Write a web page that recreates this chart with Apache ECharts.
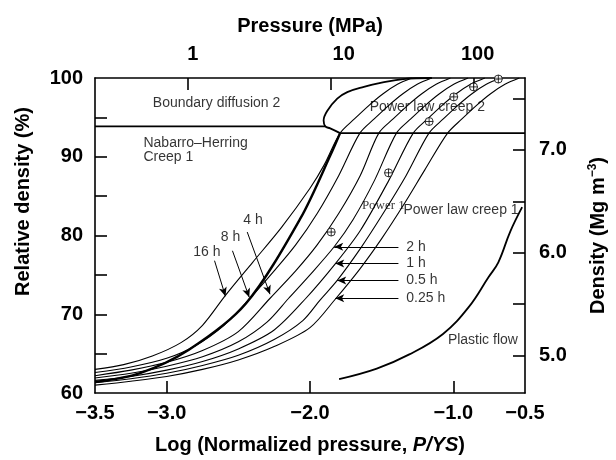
<!DOCTYPE html>
<html>
<head>
<meta charset="utf-8">
<script src="https://cdn.jsdelivr.net/npm/echarts@6/dist/echarts.min.js"></script>
<style>
  html, body { margin: 0; padding: 0; background: #fff; }
  #chart { width: 616px; height: 460px; }
</style>
</head>
<body>
<div id="chart"></div>
<script>
// x = log(P/YS), y = relative density (%)
const h16 = [[-3.5,63.0],[-3.3,63.6],[-3.1,64.7],[-2.9,66.4],[-2.75,68.6],[-2.59,72.4],[-2.4,76.6],[-2.2,81.0],[-2.0,86.0],[-1.9,89.0],[-1.79,93.0],[-1.69,94.8],[-1.59,96.5],[-1.49,98.0],[-1.39,99.2],[-1.29,100]];
const h8 = [[-3.5,62.6],[-3.25,63.3],[-3.0,64.4],[-2.8,66.0],[-2.6,68.6],[-2.42,72.0],[-2.25,75.5],[-2.1,78.8],[-1.95,82.8],[-1.8,87.6],[-1.652,93.0],[-1.552,94.8],[-1.452,96.5],[-1.352,98.0],[-1.252,99.2],[-1.152,100]];
const h4 = [[-3.5,62.2],[-3.25,62.9],[-3.0,63.9],[-2.75,65.4],[-2.5,67.8],[-2.28,72.0],[-2.1,75.5],[-1.95,78.8],[-1.8,82.8],[-1.65,87.6],[-1.52,93.0],[-1.42,94.8],[-1.32,96.5],[-1.22,98.0],[-1.12,99.2],[-1.02,100]];
const h2 = [[-3.5,61.9],[-3.25,62.5],[-3.0,63.4],[-2.75,64.6],[-2.5,66.5],[-2.3,69.0],[-2.15,72.0],[-2.0,75.0],[-1.83,78.6],[-1.7,82.0],[-1.55,87.0],[-1.397,93.0],[-1.297,94.8],[-1.197,96.5],[-1.097,98.0],[-0.997,99.2],[-0.897,100]];
const h1 = [[-3.5,61.6],[-3.25,62.1],[-3.0,62.9],[-2.75,64.0],[-2.5,65.6],[-2.25,68.0],[-2.03,72.0],[-1.824,76.4],[-1.65,80.6],[-1.45,87.0],[-1.28,93.0],[-1.18,94.8],[-1.08,96.5],[-0.98,98.0],[-0.88,99.2],[-0.78,100]];
const h05 = [[-3.5,61.3],[-3.25,61.8],[-3.0,62.5],[-2.75,63.5],[-2.5,64.8],[-2.25,66.8],[-2.05,69.2],[-1.93,71.8],[-1.81,74.3],[-1.65,78.3],[-1.5,82.5],[-1.33,87.6],[-1.17,93.0],[-1.07,94.8],[-0.97,96.5],[-0.87,98.0],[-0.77,99.2],[-0.67,100]];
const h025 = [[-3.5,61.0],[-3.25,61.5],[-3.0,62.1],[-2.75,63.0],[-2.5,64.2],[-2.25,65.9],[-2.0,68.3],[-1.82,72.0],[-1.65,75.8],[-1.5,79.6],[-1.35,83.8],[-1.2,88.3],[-1.04,93.0],[-0.94,94.8],[-0.84,96.5],[-0.74,98.0],[-0.64,99.2],[-0.54,100]];

// field boundaries
const nhBoundary = [[-3.5,61.4],[-3.19,62.5],[-2.845,65.5],[-2.45,71.3],[-2.066,82.2],[-1.845,90.7],[-1.79,93.0]];
const bdLine = [[-3.5,93.86],[-1.893,93.86]];
const bulb = [[-1.79,93.0],[-1.859,93.6],[-1.893,93.86],[-1.905,94.6],[-1.88,95.8],[-1.81,97.37],[-1.74,98.2],[-1.624,98.87],[-1.5,99.4],[-1.35,99.87],[-1.15,100]];
const plcLine = [[-1.79,93.0],[-0.5,93.0]];
const plasticFlow = [[-1.797,61.76],[-1.534,63.1],[-1.307,64.9],[-1.072,67.5],[-0.893,70.9],[-0.755,74.7],[-0.686,76.6],[-0.603,80.5],[-0.52,83.6]];

// measured points
const measured = [[-1.852,80.44],[-1.452,87.96],[-1.169,94.48],[-0.997,97.6],[-0.859,98.87],[-0.686,99.87]];

// arrows: [from, to]
const arrows = [
  [[-2.666,76.8],[-2.59,72.29]],
  [[-2.541,78.06],[-2.424,72.16]],
  [[-2.438,80.44],[-2.279,72.54]],
  [[-1.383,78.56],[-1.831,78.56]],
  [[-1.383,76.43],[-1.824,76.43]],
  [[-1.383,74.3],[-1.81,74.3]],
  [[-1.383,72.04],[-1.824,72.04]]
];

const centerLabels = [['16 h',-2.72,77.93],['8 h',-2.555,79.8],['4 h',-2.397,81.94],['Boundary diffusion 2',-2.652,96.87]];
const leftLabels = [['2 h',-1.328,78.56],['1 h',-1.328,76.43],['0.5 h',-1.328,74.3],['0.25 h',-1.328,72.04],
  ['Nabarro\u2013Herring\nCreep 1',-3.162,90.8],['Power law creep 2',-1.583,96.36],['Power law creep 1',-1.348,83.2],['Plastic flow',-1.038,66.77]];
const serifLabels = [['Power 1',-1.638,83.8]];

const bottomLabels = [-3.5,-3.0,-2.0,-1.0,-0.5];
const bottomTicks = [-3.0,-2.0,-1.0];
const topLogMPa = [0,1,2];
const topLabelNames = ['1','10','100'];
const leftLabelVals = [60,70,80,90,100];
const leftTicks = [65,70,75,80,85,90,95];
const rightLabelVals = [5,6,7];
const rightTicks = [5,5.5,6,6.5,7,7.5];

const FONT = '"Liberation Sans", Arial, sans-serif';
const minus = v => String(v).replace('-', '\u2212');

const chart = echarts.init(document.getElementById('chart'), null, { renderer: 'canvas' });

const thin = { color: '#000', width: 1.1 };
const curve = (name, data) => ({
  name, type: 'line', data, smooth: 0.3, showSymbol: false, symbol: 'none',
  lineStyle: thin, silent: true, animation: false, z: 3
});

const textSeries = (items, align, family, size) => ({
  type: 'scatter', symbolSize: 0, silent: true, animation: false, z: 6,
  data: items.map(t => ({ value: [t[1], t[2]], name: t[0] })),
  label: {
    show: true, position: 'inside', formatter: p => p.name, align: align, verticalAlign: 'middle',
    color: '#000', fontFamily: family, fontSize: size, lineHeight: 14
  }
});

const axisTitle = { color: '#000', fontFamily: FONT, fontSize: 20, fontWeight: 'bold' };
const tickLabel = { color: '#000', fontFamily: FONT, fontSize: 20, fontWeight: 'bold' };
const frame = { show: true, onZero: false, lineStyle: { color: '#000', width: 1.6 } };
const topRich = {
  a: Object.assign({ padding: [0, 0, 0, 10] }, tickLabel),
  b: Object.assign({ padding: [0, 0, 0, 26] }, tickLabel),
  c: Object.assign({ padding: [0, 0, 0, 8] }, tickLabel)
};

chart.setOption({
  animation: false,
  backgroundColor: '#fff',
  grid: { left: 95, right: 86, top: 78, bottom: 63 },
  xAxis: [
    {
      type: 'value', position: 'bottom', min: -3.5, max: -0.5,
      name: 'Log (Normalized pressure, {i|P/YS})', nameLocation: 'middle', nameGap: 42,
      nameTextStyle: Object.assign({}, axisTitle, { rich: { i: Object.assign({}, axisTitle, { fontStyle: 'italic' }) } }),
      axisLine: frame,
      axisTick: { show: true, inside: true, length: 12, customValues: bottomTicks, lineStyle: { color: '#000', width: 1.6 } },
      axisLabel: Object.assign({ margin: 10, customValues: bottomLabels, formatter: v => minus(v.toFixed(1)) }, tickLabel),
      splitLine: { show: false }
    },
    {
      type: 'value', position: 'top', min: -0.65, max: 2.36,
      name: 'Pressure (MPa)', nameLocation: 'middle', nameGap: 42,
      nameTextStyle: axisTitle,
      axisLine: frame,
      axisTick: { show: true, inside: true, length: 12, customValues: topLogMPa, lineStyle: { color: '#000', width: 1.6 } },
      axisLabel: Object.assign({
        margin: 14, customValues: topLogMPa, rich: topRich,
        formatter: v => '{' + 'abc'[Math.round(v)] + '|' + topLabelNames[Math.round(v)] + '}'
      }, tickLabel),
      splitLine: { show: false }
    }
  ],
  yAxis: [
    {
      type: 'value', position: 'left', min: 60, max: 100,
      name: 'Relative density (%)', nameLocation: 'middle', nameGap: 62,
      nameTextStyle: Object.assign({ padding: [0, 0, 0, 68] }, axisTitle),
      axisLine: frame,
      axisTick: { show: true, inside: true, length: 12, customValues: leftTicks, lineStyle: { color: '#000', width: 1.6 } },
      axisLabel: Object.assign({ margin: 12, customValues: leftLabelVals }, tickLabel),
      splitLine: { show: false }
    },
    {
      type: 'value', position: 'right', min: 4.635, max: 7.70,
      name: 'Density (Mg m{s|\u22123})', nameLocation: 'middle', nameGap: 62,
      nameTextStyle: Object.assign({}, axisTitle, {
        rich: { s: { color: '#000', fontFamily: FONT, fontSize: 12, fontWeight: 'bold', verticalAlign: 'top', padding: [0, 0, 10, 0] } }
      }),
      axisLine: frame,
      axisTick: { show: true, inside: true, length: 12, customValues: rightTicks, lineStyle: { color: '#000', width: 1.6 } },
      axisLabel: Object.assign({ margin: 14, customValues: rightLabelVals, formatter: v => v.toFixed(1) }, tickLabel),
      splitLine: { show: false }
    }
  ],
  series: [
    curve('16 h', h16), curve('8 h', h8), curve('4 h', h4), curve('2 h', h2),
    curve('1 h', h1), curve('0.5 h', h05), curve('0.25 h', h025),
    {
      type: 'line', data: nhBoundary, smooth: 0.3, symbol: 'none', silent: true, z: 4,
      lineStyle: { color: '#000', width: 2.4 },
      markLine: {
        silent: true, symbol: ['none', 'arrow'], symbolSize: [6, 9], animation: false,
        lineStyle: { color: '#000', width: 1, type: 'solid' }, label: { show: false },
        data: arrows.map(a => [{ coord: a[0] }, { coord: a[1] }])
      }
    },
    { type: 'line', data: bdLine, symbol: 'none', silent: true, lineStyle: { color: '#000', width: 1.8 } },
    { type: 'line', data: bulb, smooth: 0.4, symbol: 'none', silent: true, lineStyle: { color: '#000', width: 1.8 } },
    { type: 'line', data: plcLine, symbol: 'none', silent: true, lineStyle: { color: '#000', width: 1.8 } },
    { type: 'line', data: plasticFlow, smooth: 0.4, symbol: 'none', silent: true, lineStyle: { color: '#000', width: 1.8 } },
    {
      type: 'scatter', data: measured, silent: true, z: 5,
      symbol: 'path://M0,-5A5,5 0 1,1 0,5A5,5 0 1,1 0,-5ZM-5,0L5,0M0,-5L0,5', symbolSize: 8,
      itemStyle: { color: '#fff', borderColor: '#000', borderWidth: 1 }
    },
    textSeries(centerLabels, 'center', FONT, 14),
    textSeries(leftLabels, 'left', FONT, 14),
    textSeries(serifLabels, 'left', '"Liberation Serif", "DejaVu Serif", serif', 13)
  ]
});
</script>
</body>
</html>
